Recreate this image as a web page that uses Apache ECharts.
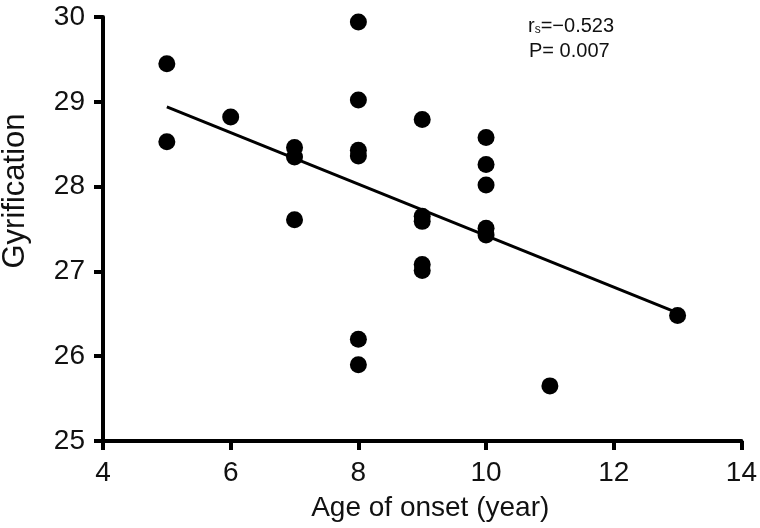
<!DOCTYPE html>
<html>
<head>
<meta charset="utf-8">
<script src="https://cdn.jsdelivr.net/npm/echarts@6/dist/echarts.min.js"></script>
<style>html,body{margin:0;padding:0;background:#fff}#c{width:760px;height:528px}</style>
</head>
<body>
<div id="c"></div>
<script>
var ageOfOnset = [5, 5, 6, 7, 7, 7, 8, 8, 8, 8, 8, 8, 9, 9, 9, 9, 9, 10, 10, 10, 10, 10, 11, 13];
var gyrification = [29.45, 28.53, 28.82, 28.46, 28.35, 27.61, 29.94, 29.02, 28.43, 28.36, 26.20, 25.90, 28.79, 27.65, 27.59, 27.08, 27.01, 28.58, 28.26, 28.02, 27.51, 27.43, 25.65, 26.48];
var trendX = [5, 13];
var trendY = [28.94, 26.51];
var xTicks = [4, 6, 8, 10, 12, 14];
var yTicks = [25, 26, 27, 28, 29, 30];
var xTitle = 'Age of onset (year)';
var yTitle = 'Gyrification';

var font = '"Liberation Sans", Arial, Helvetica, sans-serif';
var pts = ageOfOnset.map(function (x, i) { return [x, gyrification[i]]; });
var line = trendX.map(function (x, i) { return [x, trendY[i]]; });

var chart = echarts.init(document.getElementById('c'));
chart.setOption({
  animation: false,
  grid: { left: 103, right: 18, top: 17, bottom: 87, containLabel: false },
  xAxis: {
    type: 'value', min: xTicks[0], max: xTicks[xTicks.length - 1], interval: 2,
    name: xTitle, nameLocation: 'middle', nameGap: 53,
    nameTextStyle: { fontFamily: font, fontSize: 28, color: '#111', padding: [0, 0, 0, 16] },
    axisLine: { show: true, onZero: false, lineStyle: { color: '#000', width: 4 } },
    axisTick: { show: true, length: 9, lineStyle: { color: '#000', width: 4 } },
    axisLabel: { fontFamily: font, fontSize: 28, color: '#111', margin: 18 },
    splitLine: { show: false }
  },
  yAxis: {
    type: 'value', min: yTicks[0], max: yTicks[yTicks.length - 1], interval: 1,
    axisLine: { show: true, onZero: false, lineStyle: { color: '#000', width: 4 } },
    axisTick: { show: true, length: 9, lineStyle: { color: '#000', width: 4 } },
    axisLabel: { fontFamily: font, fontSize: 28, color: '#111', margin: 18 },
    splitLine: { show: false }
  },
  series: [
    {
      type: 'line', data: line, symbol: 'none', silent: true,
      lineStyle: { color: '#000', width: 3 }, z: 2
    },
    {
      type: 'scatter', data: pts, symbol: 'circle', symbolSize: 17,
      itemStyle: { color: '#000', opacity: 1 }, z: 3
    }
  ],
  graphic: [
    {
      type: 'text', x: 15, y: 191, rotation: Math.PI / 2,
      style: { text: yTitle, fontFamily: font, fontSize: 31, fill: '#111', align: 'center', verticalAlign: 'middle' }
    },
    {
      type: 'text', x: 528, y: 26,
      style: {
        text: '{r|r}{s|s}{r|=\u22120.523}',
        verticalAlign: 'middle',
        rich: {
          r: { fontFamily: font, fontSize: 20, lineHeight: 20, fill: '#111' },
          s: { fontFamily: font, fontSize: 12, lineHeight: 10, fill: '#111', verticalAlign: 'bottom' }
        }
      }
    },
    {
      type: 'text', x: 529, y: 51,
      style: { text: 'P= 0.007', fontFamily: font, fontSize: 20, fill: '#111', verticalAlign: 'middle' }
    }
  ]
});
</script>
</body>
</html>
